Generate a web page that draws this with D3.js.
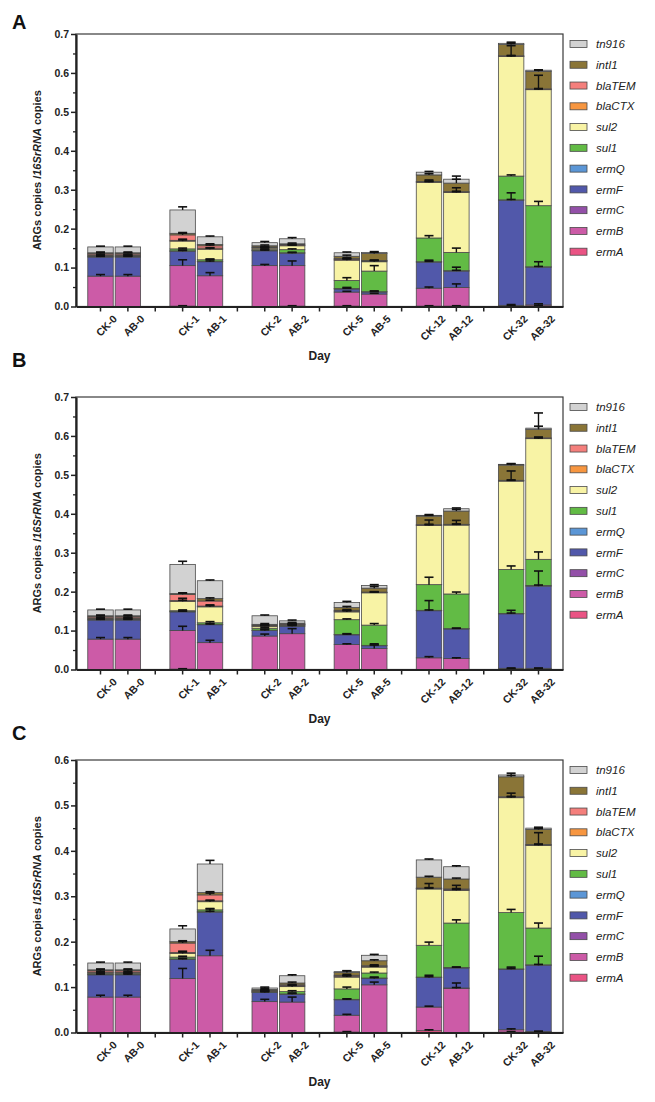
<!DOCTYPE html>
<html>
<head>
<meta charset="utf-8">
<script src="https://cdn.jsdelivr.net/npm/d3@7"></script>
<style>
  html, body { margin: 0; padding: 0; background: #fff; }
  svg { display: block; }
  text { font-family: "Liberation Sans", Arial, sans-serif; }
</style>
</head>
<body>
<svg id="chart" width="655" height="1102"></svg>
<script>
// ---------- DATA ----------
const samples = ["CK-0","AB-0","CK-1","AB-1","CK-2","AB-2","CK-5","AB-5","CK-12","AB-12","CK-32","AB-32"];
const series = ["ermA","ermB","ermC","ermF","ermQ","sul1","sul2","blaCTX","blaTEM","intI1","tn916"];
const seriesColors = ["#ea5384","#cc5ba7","#9350a8","#5158aa","#5b96d6","#62bb45","#f8f3a5","#f79640","#f47f7c","#8a7537","#d2d2d2"];
const yTicksAB = [0,0.1,0.2,0.3,0.4,0.5,0.6,0.7];
const yTicksC = [0,0.1,0.2,0.3,0.4,0.5,0.6];
const panelLabels = ["A","B","C"];

// values per series (rows in `series` order), columns in `samples` order
const valuesA = [
  [0,0,0.001,0,0,0.001,0.001,0,0.001,0.001,0.001,0.001],            // ermA
  [0.078,0.078,0.104,0.079,0.105,0.104,0.036,0.032,0.046,0.048,0.002,0.003], // ermB
  [0,0,0,0,0,0,0,0,0,0,0,0],                                          // ermC
  [0.049,0.049,0.037,0.036,0.038,0.032,0.008,0.005,0.067,0.042,0.270,0.097], // ermF
  [0.001,0.001,0.001,0.001,0.001,0.001,0.001,0.001,0.001,0.001,0.001,0.001], // ermQ
  [0.002,0.002,0.005,0.004,0.002,0.008,0.021,0.053,0.061,0.047,0.061,0.157], // sul1
  [0.002,0.002,0.020,0.027,0.004,0.010,0.052,0.024,0.143,0.154,0.307,0.298], // sul2
  [0.001,0.001,0.002,0.003,0.001,0.001,0.002,0.002,0.001,0.001,0.001,0.001], // blaCTX
  [0.003,0.003,0.014,0.006,0.002,0.002,0.002,0.001,0.001,0.001,0.001,0.001], // blaTEM
  [0.002,0.002,0.004,0.003,0.003,0.002,0.006,0.018,0.017,0.022,0.029,0.045], // intI1
  [0.015,0.015,0.060,0.020,0.008,0.013,0.009,0.003,0.007,0.010,0.003,0.003]  // tn916
];
const errorsA = [
  [0,0,0.001,0,0,0.001,0.001,0,0.001,0.001,0.001,0.002],
  [0.004,0.004,0.015,0.008,0.003,0.012,0.002,0.002,0.003,0.009,0.002,0.003],
  [0,0,0,0,0,0,0,0,0,0,0,0],
  [0.002,0.002,0.003,0.006,0.003,0.002,0.004,0.003,0.005,0.010,0.019,0.014],
  [0.001,0.001,0.001,0.001,0.001,0.001,0.001,0.001,0.001,0.001,0.001,0.001],
  [0.001,0.001,0.002,0.002,0.002,0.002,0.007,0.014,0.006,0.011,0.003,0.011],
  [0.001,0.001,0.005,0.003,0.002,0.002,0.004,0.004,0.006,0.012,0.028,0.037],
  [0.001,0.001,0.001,0.001,0.001,0.001,0.001,0.001,0.001,0.001,0.001,0.001],
  [0.002,0.002,0.004,0.002,0.001,0.001,0.002,0.001,0.001,0.001,0.001,0.001],
  [0.002,0.002,0.002,0.002,0.002,0.002,0.003,0.003,0.003,0.010,0.003,0.003],
  [0.002,0.002,0.008,0.002,0.003,0.003,0.002,0.002,0.002,0.008,0.003,0.001]
];

const valuesB = [
  [0,0,0.001,0,0,0,0,0,0,0,0.001,0.001],
  [0.078,0.078,0.099,0.069,0.086,0.092,0.064,0.054,0.030,0.028,0.002,0.002],
  [0,0,0,0,0,0,0,0,0,0,0,0],
  [0.049,0.049,0.048,0.046,0.014,0.019,0.025,0.007,0.121,0.076,0.140,0.211],
  [0.001,0.001,0.001,0.001,0.001,0.001,0.001,0.001,0.001,0.001,0.001,0.002],
  [0.002,0.002,0.002,0.004,0.005,0.002,0.038,0.052,0.066,0.089,0.113,0.067],
  [0.002,0.002,0.024,0.041,0.005,0.001,0.020,0.083,0.152,0.177,0.227,0.310],
  [0.001,0.001,0.002,0.002,0.001,0.001,0.002,0.001,0.001,0.001,0.001,0.001],
  [0.003,0.003,0.016,0.013,0.002,0.001,0.002,0.001,0.001,0.001,0.001,0.001],
  [0.002,0.002,0.002,0.006,0.002,0.002,0.007,0.010,0.022,0.034,0.039,0.022],
  [0.015,0.015,0.075,0.046,0.022,0.006,0.013,0.007,0.002,0.006,0.002,0.003]
];
const errorsB = [
  [0,0,0.001,0,0,0,0,0,0,0,0.001,0.001],
  [0.004,0.004,0.011,0.006,0.005,0.013,0.002,0.012,0.003,0.002,0.001,0.001],
  [0,0,0,0,0,0,0,0,0,0,0,0],
  [0.002,0.002,0.002,0.003,0.004,0.003,0.003,0.003,0.026,0.002,0.009,0.039],
  [0.001,0.001,0.001,0.001,0.001,0.001,0.001,0.001,0.001,0.001,0.001,0.001],
  [0.001,0.001,0.002,0.003,0.002,0.002,0.002,0.004,0.019,0.005,0.009,0.019],
  [0.001,0.001,0.008,0.005,0.002,0.002,0.004,0.002,0.014,0.012,0.026,0.004],
  [0.001,0.001,0.001,0.001,0.001,0.001,0.001,0.001,0.001,0.001,0.001,0.001],
  [0.002,0.002,0.003,0.002,0.001,0.001,0.002,0.001,0.001,0.001,0.001,0.001],
  [0.002,0.002,0.002,0.002,0.002,0.002,0.003,0.004,0.002,0.004,0.003,0.008],
  [0.002,0.002,0.008,0.002,0.002,0.002,0.003,0.002,0.002,0.002,0.002,0.039]
];

const valuesC = [
  [0,0,0,0,0,0,0.001,0,0.004,0,0.001,0.001],
  [0.078,0.078,0.119,0.169,0.068,0.067,0.037,0.105,0.052,0.097,0.005,0.001],
  [0,0,0,0,0,0,0,0,0,0.001,0,0],
  [0.049,0.049,0.042,0.096,0.020,0.017,0.034,0.014,0.065,0.044,0.133,0.146],
  [0.001,0.001,0.001,0.001,0.001,0.001,0.001,0.001,0.001,0.001,0.001,0.001],
  [0.002,0.002,0.004,0.004,0.001,0.005,0.023,0.011,0.070,0.098,0.124,0.081],
  [0.002,0.002,0.008,0.018,0.001,0.011,0.026,0.013,0.124,0.072,0.253,0.182],
  [0.001,0.001,0.002,0.002,0.001,0.002,0.002,0.001,0.001,0.001,0.001,0.001],
  [0.003,0.003,0.021,0.013,0.001,0.002,0.002,0.002,0.001,0.002,0.001,0.001],
  [0.002,0.002,0.003,0.005,0.002,0.004,0.006,0.011,0.024,0.022,0.044,0.033],
  [0.015,0.015,0.028,0.063,0.003,0.016,0.002,0.012,0.038,0.027,0.004,0.003]
];
const errorsC = [
  [0,0,0,0,0,0,0.001,0,0.002,0,0.001,0.001],
  [0.004,0.004,0.022,0.012,0.005,0.011,0.002,0.006,0.002,0.012,0.002,0.001],
  [0,0,0,0,0,0,0,0,0,0.001,0,0],
  [0.002,0.002,0.002,0.007,0.002,0.003,0.002,0.003,0.005,0.002,0.005,0.020],
  [0.001,0.001,0.001,0.001,0.001,0.001,0.001,0.001,0.001,0.001,0.001,0.001],
  [0.001,0.001,0.002,0.003,0.001,0.002,0.004,0.002,0.007,0.007,0.007,0.011],
  [0.001,0.001,0.005,0.003,0.001,0.003,0.003,0.003,0.012,0.011,0.010,0.028],
  [0.001,0.001,0.001,0.001,0.001,0.001,0.001,0.001,0.001,0.001,0.001,0.001],
  [0.002,0.002,0.003,0.004,0.001,0.001,0.002,0.002,0.001,0.001,0.001,0.001],
  [0.002,0.002,0.002,0.002,0.002,0.002,0.004,0.002,0.002,0.002,0.003,0.002],
  [0.002,0.002,0.007,0.008,0.002,0.002,0.002,0.002,0.002,0.002,0.004,0.002]
];

// ---------- LAYOUT ----------
const W = 655, H = 1102;
const plotLeft = 76, plotRight = 563, plotH = 272.5;
const panels = [
  {label: panelLabels[0], top: 34,  vals: valuesA, errs: errorsA, ticks: yTicksAB, labelDy: -5},
  {label: panelLabels[1], top: 397, vals: valuesB, errs: errorsB, ticks: yTicksAB, labelDy: -30},
  {label: panelLabels[2], top: 760, vals: valuesC, errs: errorsC, ticks: yTicksC, labelDy: -20}
];

// slot domain: samples with a spacer after every pair (except last)
const slots = [];
samples.forEach((s, i) => {
  slots.push(s);
  if (i % 2 === 1 && i < samples.length - 1) slots.push("gap" + i);
});

const svg = d3.select("#chart");
svg.append("rect").attr("width", W).attr("height", H).attr("fill", "#fff");

panels.forEach(p => {
  const g = svg.append("g").attr("transform", `translate(0,${p.top})`);
  const ymax = p.ticks[p.ticks.length - 1];
  const y = d3.scaleLinear().domain([0, ymax]).range([plotH, 0]);
  const x = d3.scaleBand().domain(slots).range([plotLeft, plotRight])
              .paddingInner(0.07).paddingOuter(0.43);

  // rows
  const rows = samples.map((s, i) => {
    const r = {sample: s};
    series.forEach((k, j) => { r[k] = p.vals[j][i]; });
    return r;
  });
  const stack = d3.stack().keys(series)(rows);

  // frame
  g.append("rect").attr("x", plotLeft).attr("y", 0)
    .attr("width", plotRight - plotLeft).attr("height", plotH)
    .attr("fill", "none").attr("stroke", "#3a3a3a").attr("stroke-width", 1.2);

  // bars
  stack.forEach((layer, j) => {
    g.append("g").selectAll("rect").data(layer).join("rect")
      .attr("x", d => x(d.data.sample))
      .attr("width", x.bandwidth())
      .attr("y", d => y(d[1]))
      .attr("height", d => Math.max(0, y(d[0]) - y(d[1])))
      .attr("fill", seriesColors[j])
      .attr("stroke", "#4a4a4a")
      .attr("stroke-width", 0.8);
  });

  // error bars (upward from each segment top)
  const capW = 9;
  stack.forEach((layer, j) => {
    layer.forEach((d, i) => {
      const e = p.errs[j][i];
      if (!(e > 0)) return;
      const cx = x(d.data.sample) + x.bandwidth() / 2;
      const y0 = y(d[1]), y1 = y(d[1] + e);
      g.append("line").attr("x1", cx).attr("x2", cx).attr("y1", y0).attr("y2", y1)
        .attr("stroke", "#111").attr("stroke-width", 1.4);
      g.append("line").attr("x1", cx - capW / 2).attr("x2", cx + capW / 2)
        .attr("y1", y1).attr("y2", y1)
        .attr("stroke", "#111").attr("stroke-width", 1.6);
    });
  });

  // y axis major + minor
  const minor = d3.range(0, p.ticks.length - 1).map(i => (p.ticks[i] + p.ticks[i + 1]) / 2);
  const yMinor = g.append("g").attr("transform", `translate(${plotLeft},0)`)
    .call(d3.axisLeft(y).tickValues(minor).tickSize(3).tickFormat(""));
  yMinor.select(".domain").remove();
  yMinor.selectAll("line").attr("stroke", "#222").attr("stroke-width", 1.3);

  const yAx = g.append("g").attr("transform", `translate(${plotLeft},0)`)
    .call(d3.axisLeft(y).tickValues(p.ticks).tickSize(5).tickSizeOuter(0).tickPadding(2)
          .tickFormat(d3.format(".1f")));
  yAx.select(".domain").attr("stroke", "#222").attr("stroke-width", 2.2);
  yAx.selectAll(".tick line").attr("stroke", "#222").attr("stroke-width", 1.5);
  yAx.selectAll("text").attr("font-size", 10.5).attr("font-weight", "bold").attr("fill", "#222")
    .attr("font-family", '"Liberation Sans", Arial, sans-serif');

  // x axis
  const xAx = g.append("g").attr("transform", `translate(0,${plotH})`)
    .call(d3.axisBottom(x).tickSize(5).tickSizeOuter(0).tickFormat(d => d.startsWith("gap") ? "" : d));
  xAx.select(".domain").attr("stroke", "#222").attr("stroke-width", 2.2);
  xAx.selectAll(".tick line").attr("stroke", "#222").attr("stroke-width", 1.5);
  xAx.selectAll("text")
    .attr("font-size", 10.5).attr("font-weight", "bold").attr("fill", "#222")
    .attr("font-family", '"Liberation Sans", Arial, sans-serif')
    .attr("text-anchor", "end")
    .attr("transform", "translate(6,2) rotate(-45)")
    .attr("dy", "0.75em");

  // axis titles
  g.append("text").attr("x", (plotLeft + plotRight) / 2).attr("y", plotH + 53)
    .attr("text-anchor", "middle").attr("font-size", 12).attr("font-weight", "bold").attr("fill", "#222")
    .text("Day");

  const yl = g.append("text")
    .attr("transform", `translate(41,${plotH / 2}) rotate(-90)`)
    .attr("text-anchor", "middle").attr("font-size", 11).attr("font-weight", "bold").attr("fill", "#222");
  yl.append("tspan").text("ARGs copies /");
  yl.append("tspan").attr("font-style", "italic").text("16SrRNA");
  yl.append("tspan").text(" copies");

  // panel letter
  g.append("text").attr("x", 12).attr("y", p.labelDy)
    .attr("font-size", 20).attr("font-weight", "bold").attr("fill", "#111").text(p.label);

  // legend (top to bottom: reverse of stack order)
  const legendKeys = series.slice().reverse();
  const lg = g.append("g");
  legendKeys.forEach((k, i) => {
    const cy = 10 + i * 20.77;
    const ci = series.indexOf(k);
    lg.append("rect").attr("x", 570).attr("y", cy - 3.5).attr("width", 17).attr("height", 7)
      .attr("fill", seriesColors[ci]).attr("stroke", "#4a4a4a").attr("stroke-width", 0.8);
    lg.append("text").attr("x", 596).attr("y", cy).attr("dy", "0.36em")
      .attr("font-size", 11.5).attr("font-style", "italic").attr("fill", "#222").text(k);
  });
});
</script>
</body>
</html>
